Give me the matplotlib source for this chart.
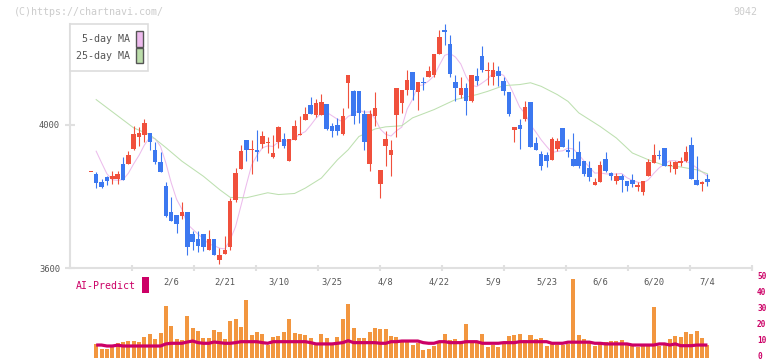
import numpy as np
import matplotlib
matplotlib.use('Agg')
import matplotlib.pyplot as plt
import matplotlib.transforms as mtransforms
from matplotlib.patches import Rectangle
import pandas as pd

# ---------------- data ----------------
opens = [3868, 3862, 3839, 3853, 3848, 3848, 3891, 3891, 3933, 3967,
         3970, 3977, 3928, 3897, 3830, 3755, 3749, 3744, 3757, 3696,
         3682, 3696, 3651, 3682, 3623, 3640, 3660, 3789, 3877, 3958,
         3928, 3930, 3947, 3948, 3909, 3951, 3961, 3898, 3958, 3970,
         4012, 4056, 4028, 4026, 4059, 3997, 4000, 3975, 4115, 4093,
         4095, 4030, 3891, 4025, 3835, 3940, 3914, 4028, 4061, 4096,
         4146, 4090, 4120, 4133, 4140, 4198, 4265, 4226, 4120, 4084,
         4103, 4065, 4137, 4193, 4149, 4132, 4151, 4121, 4090, 3984,
         4000, 4016, 4063, 3949, 3918, 3914, 3902, 3932, 3991, 3930,
         3904, 3924, 3900, 3879, 3833, 3839, 3904, 3865, 3842, 3856,
         3842, 3847, 3826, 3811, 3858, 3893, 3916, 3936, 3884, 3877,
         3893, 3898, 3944, 3847, 3835, 3849]
highs = [3868, 3867, 3849, 3858, 3872, 3872, 3910, 3926, 3995, 3994,
         4017, 3977, 3953, 3923, 3841, 3798, 3749, 3785, 3757, 3702,
         3702, 3696, 3707, 3682, 3655, 3688, 3795, 3879, 3944, 3958,
         3958, 3986, 3983, 3967, 3972, 3997, 3977, 3961, 4014, 4025,
         4049, 4077, 4073, 4087, 4059, 4005, 4018, 4047, 4140, 4096,
         4095, 4042, 4042, 4090, 3874, 3981, 3958, 4103, 4098, 4152,
         4146, 4120, 4133, 4163, 4198, 4263, 4282, 4251, 4140, 4133,
         4116, 4140, 4158, 4219, 4174, 4174, 4163, 4133, 4090, 3993,
         4017, 4067, 4063, 3965, 3926, 3924, 3966, 3963, 3991, 3961,
         3977, 3955, 3900, 3900, 3851, 3900, 3923, 3867, 3865, 3861,
         3844, 3861, 3839, 3844, 3905, 3947, 3928, 3936, 3900, 3900,
         3910, 3941, 3965, 3912, 3842, 3861]
lows = [3868, 3823, 3824, 3833, 3835, 3835, 3845, 3891, 3930, 3941,
        3951, 3928, 3890, 3867, 3742, 3730, 3698, 3737, 3637, 3651,
        3644, 3648, 3649, 3637, 3612, 3640, 3651, 3784, 3877, 3900,
        3861, 3900, 3935, 3921, 3907, 3935, 3935, 3898, 3958, 3970,
        4012, 4029, 4022, 4026, 3984, 3966, 3970, 3972, 4047, 4003,
        4005, 3930, 3870, 3995, 3794, 3886, 3858, 3966, 4033, 4084,
        4070, 4042, 4098, 4133, 4133, 4198, 4223, 4133, 4067, 4075,
        4026, 4062, 4112, 4146, 4112, 4112, 4107, 4084, 4023, 3951,
        3933, 4009, 3937, 3930, 3873, 3881, 3902, 3926, 3937, 3910,
        3884, 3879, 3858, 3842, 3833, 3839, 3868, 3845, 3835, 3811,
        3814, 3825, 3814, 3803, 3856, 3893, 3904, 3884, 3867, 3863,
        3884, 3895, 3849, 3833, 3814, 3828]
closes = [3868, 3837, 3826, 3842, 3858, 3861, 3845, 3916, 3974, 3977,
          4005, 3953, 3895, 3867, 3744, 3730, 3722, 3757, 3660, 3672,
          3662, 3659, 3682, 3637, 3637, 3651, 3788, 3865, 3926, 3928,
          3931, 3923, 3969, 3953, 3921, 3994, 3940, 3961, 3997, 3975,
          4030, 4029, 4061, 4064, 3989, 3981, 3981, 4025, 4140, 4023,
          4033, 3953, 4030, 4047, 3874, 3961, 3930, 4103, 4098, 4126,
          4096, 4120, 4116, 4151, 4198, 4245, 4258, 4142, 4101, 4101,
          4067, 4140, 4123, 4152, 4154, 4152, 4137, 4093, 4031, 3993,
          3989, 4048, 3937, 3930, 3884, 3898, 3961, 3955, 3937, 3923,
          3884, 3884, 3863, 3853, 3840, 3888, 3870, 3858, 3856, 3847,
          3828, 3835, 3831, 3844, 3895, 3916, 3912, 3886, 3888, 3895,
          3898, 3923, 3849, 3833, 3839, 3839]
volume = [0, 8.8, 5.6, 5.6, 7.5, 9.6, 10.2, 10.8, 10.6, 10.2,
          13.3, 14.8, 11.9, 15.8, 32.7, 20.2, 11.9, 11.3, 26.5, 19.0,
          16.9, 12.3, 12.7, 17.5, 16.0, 11.9, 23.1, 24.4, 19.6, 36.3,
          14.4, 16.5, 15.0, 8.1, 12.9, 13.8, 16.0, 24.4, 15.4, 15.0,
          14.4, 12.3, 8.1, 15.0, 12.3, 9.6, 12.9, 24.4, 33.8, 18.5,
          12.3, 12.3, 16.0, 18.5, 17.9, 17.9, 13.8, 12.9, 10.2, 11.3,
          8.1, 9.2, 5.0, 5.6, 7.5, 10.2, 15.0, 11.3, 11.9, 10.2,
          21.2, 10.2, 10.2, 15.0, 7.1, 8.1, 7.1, 9.8, 13.8, 14.4,
          15.0, 11.3, 14.4, 11.9, 12.3, 7.5, 9.0, 8.1, 8.1, 8.8,
          49.4, 14.4, 11.9, 10.2, 7.5, 8.8, 9.8, 10.8, 10.8, 11.3,
          9.6, 8.8, 7.1, 8.1, 8.1, 32.1, 7.5, 8.1, 11.9, 13.9,
          12.9, 16.5, 15.0, 17.1, 12.3, 8.1]
ai_predict = [np.nan, 8.1, 8.1, 7.5, 7.5, 8.0, 7.5, 7.5, 7.5, 7.5,
              7.5, 7.5, 7.5, 7.5, 8.8, 9.2, 9.2, 9.2, 10.0, 10.6,
              9.6, 9.2, 9.2, 10.0, 9.6, 9.2, 9.2, 9.6, 10.2, 10.2,
              10.2, 10.2, 9.6, 9.2, 10.2, 10.2, 10.2, 10.2, 10.2, 10.2,
              10.2, 9.6, 8.8, 8.8, 8.8, 8.8, 9.2, 9.6, 10.8, 9.6,
              9.6, 9.6, 9.6, 9.6, 9.2, 9.2, 10.2, 10.2, 10.6, 10.6,
              10.6, 10.6, 9.6, 9.2, 9.2, 10.2, 10.2, 9.6, 9.6, 9.6,
              10.2, 10.2, 10.2, 9.2, 9.2, 9.2, 9.2, 9.6, 9.6, 9.6,
              10.2, 10.2, 10.2, 10.2, 10.2, 10.2, 9.2, 9.2, 9.2, 9.9,
              9.9, 9.9, 9.9, 9.9, 9.2, 9.2, 8.8, 8.8, 8.8, 8.8,
              8.8, 8.1, 8.1, 8.1, 8.1, 8.1, 8.8, 8.8, 8.1, 8.8,
              7.7, 7.7, 7.7, 8.1, 8.1, 8.1]
ma5_head = [np.nan, 3926, 3894, 3863]
ma25_idx = [1, 8, 11, 14, 17, 21, 24, 26, 29, 33, 35, 38, 40, 43, 46, 48, 50,
            53, 55, 58, 60, 64, 68, 72, 74, 77, 80, 82, 84, 87, 89, 91, 95,
            98, 101, 104, 107, 110, 113, 115]
ma25_val = [4070, 3991, 3972, 3936, 3898, 3856, 3819, 3797, 3796, 3810, 3805,
            3808, 3823, 3851, 3902, 3930, 3967, 3988, 3994, 3997, 4019, 4042,
            4070, 4084, 4093, 4109, 4112, 4117, 4107, 4084, 4065, 4033, 3995,
            3963, 3921, 3902, 3886, 3882, 3874, 3863]
date_labels = ['2/6', '2/21', '3/10', '3/25', '4/8', '4/22', '5/9', '5/23',
               '6/6', '6/20', '7/4']
date_label_idx = [15, 25, 35, 45, 55, 65, 75, 85, 95, 105, 115]
price_ticks = [3600, 4000]
vol_ticks = [0, 10, 20, 30, 40, 50]

# ---------------- styling ----------------
RED = '#f0503c'
BLUE = '#3c78f0'
ORANGE = '#f2963f'
CRIMSON = '#cc0066'
GRID = '#e0e0e0'
TXT = '#555555'
MONO = 'DejaVu Sans Mono'

W, H = 772, 361
fig = plt.figure(figsize=(W / 100, H / 100), dpi=100)


def frac(x0, y0, x1, y1):
    return [x0 / W, 1 - y1 / H, (x1 - x0) / W, (y1 - y0) / H]


ax = fig.add_axes(frac(70, 0, 752, 268))
axv = fig.add_axes(frac(70, 268, 752, 358))

n = len(closes)
x = np.arange(n)
o = np.array(opens, float)
c = np.array(closes, float)
hi = np.array(highs, float)
lo = np.array(lows, float)

xl = (-3.88, 123.31)
for a in (ax, axv):
    a.set_xlim(*xl)
    a.patch.set_alpha(0)
ax.set_ylim(3600, 4348)
axv.set_ylim(0, 56.25)

# moving averages
ma5 = pd.Series(c).rolling(5).mean().to_numpy()
ma5[:len(ma5_head)] = ma5_head
ax.plot(x, ma5, color='#ecbcec', lw=0.75, zorder=1)
ax.plot(ma25_idx, ma25_val, color='#bde0b0', lw=0.75, zorder=1)

# candles
up = c >= o
cols = np.where(up, RED, BLUE)
ax.vlines(x, lo, hi, colors=cols, lw=0.8, zorder=2)
body_bot = np.minimum(o, c)
body_h = np.maximum(np.abs(c - o), 3.5)
ax.bar(x, body_h, bottom=body_bot, width=0.84, color=cols, lw=0, zorder=3)

# volume + AI-predict
axv.bar(x, volume, width=0.75, color=ORANGE, lw=0, zorder=2)
axv.plot(x, ai_predict, color=CRIMSON, lw=2.3, zorder=3, solid_capstyle='butt')

# axes cosmetics (upper)
for s in ('top', 'right'):
    ax.spines[s].set_visible(False)
ax.spines['left'].set_color(GRID)
ax.spines['bottom'].set_color(GRID)
ax.spines['left'].set_linewidth(1.5)
ax.spines['bottom'].set_linewidth(1.5)
ax.spines['left'].set_bounds(3600, 4282)
ax.set_yticks(price_ticks)
ax.set_yticklabels([str(t) for t in price_ticks], fontsize=6.3,
                   color=TXT, family=MONO)
ax.tick_params(axis='y', direction='inout', length=6.5, width=1.5,
               color=GRID, pad=4)
span = xl[1] - xl[0]
ax.set_xticks([xl[0] + k * span / 11 for k in range(1, 12)])
ax.set_xticklabels([])
ax.tick_params(axis='x', direction='inout', length=4, width=1.5, color=GRID)

# lower axes cosmetics: right-hand volume scale
for s in axv.spines.values():
    s.set_visible(False)
axv.set_xticks([])
axv.set_yticks([])
lab_tr = mtransforms.offset_copy(axv.get_yaxis_transform(), fig=fig,
                                 x=0, y=1.2, units='points')
for t in vol_ticks:
    axv.text(1.0 + 5 / 682, t, str(t), transform=lab_tr, ha='left',
             va='center', fontsize=5.6, color=CRIMSON, family=MONO,
             fontweight='bold')

# date labels
for idx, lab in zip(date_label_idx, date_labels):
    axv.text(idx, 0.844, lab, transform=axv.get_xaxis_transform(),
             ha='center', va='center', fontsize=6.3, color=TXT, family=MONO)

# legend box
fig.add_artist(Rectangle((70 / W, 1 - 71 / H), 78 / W, 47 / H,
                         transform=fig.transFigure, fc='white', ec='#dddddd',
                         lw=1.2, zorder=5))
fig.text(129.5 / W, 1 - 39 / H, '5-day MA', ha='right', va='center',
         fontsize=7.2, color=TXT, family=MONO, zorder=6)
fig.text(129.5 / W, 1 - 56 / H, '25-day MA', ha='right', va='center',
         fontsize=7.2, color=TXT, family=MONO, zorder=6)
fig.add_artist(Rectangle((136.3 / W, 1 - 46.7 / H), 6.4 / W, 15.7 / H,
                         transform=fig.transFigure, fc='#eebbee', ec='#555555',
                         lw=1.0, zorder=6))
fig.add_artist(Rectangle((136.3 / W, 1 - 63.3 / H), 6.4 / W, 15.0 / H,
                         transform=fig.transFigure, fc='#bbddaa', ec='#555555',
                         lw=1.0, zorder=6))

# watermark / code
fig.text(14 / W, 1 - 12 / H, '(C)https://chartnavi.com/', ha='left',
         va='center', fontsize=7.2, color='#cccccc', family=MONO)
fig.text(757 / W, 1 - 12 / H, '9042', ha='right', va='center',
         fontsize=7.2, color='#cccccc', family=MONO)

# AI-Predict label
fig.text(75.7 / W, 1 - 285.7 / H, 'AI-Predict', ha='left', va='center',
         fontsize=7.1, color=CRIMSON, family=MONO)
fig.add_artist(Rectangle((142 / W, 1 - 293 / H), 7 / W, 16 / H,
                         transform=fig.transFigure, fc=CRIMSON, ec='none'))

fig.savefig('out.png', dpi=100)
